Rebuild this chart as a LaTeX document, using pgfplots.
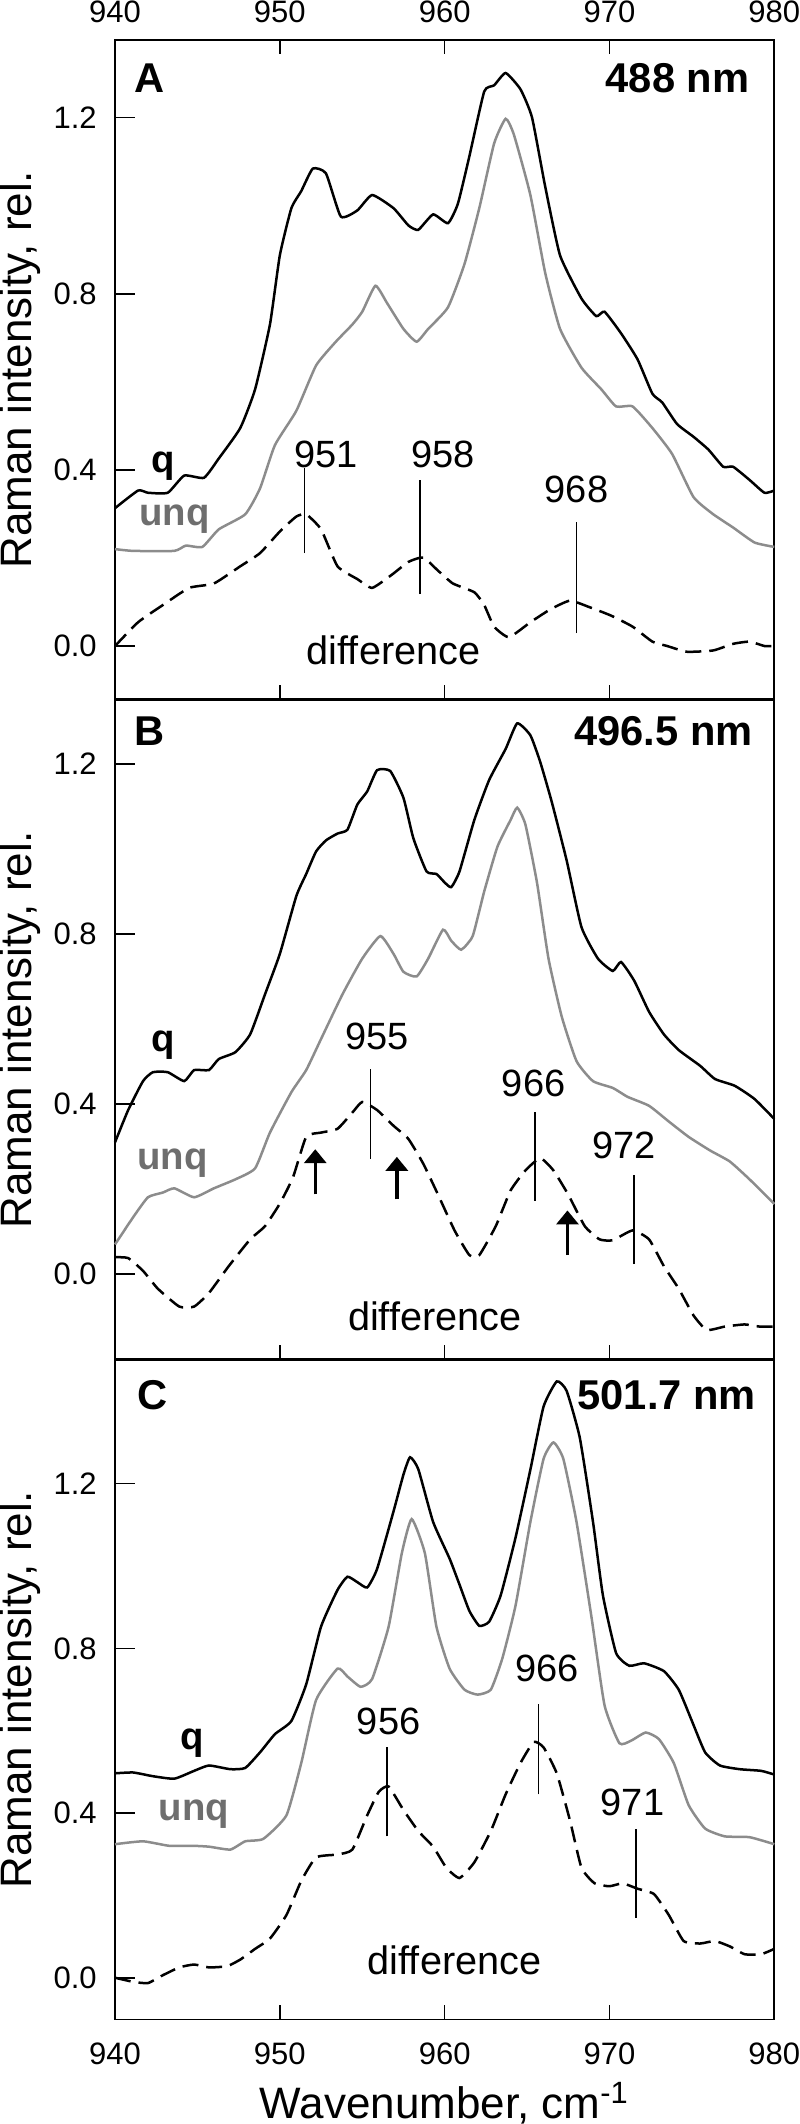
\documentclass[border=0pt]{standalone}
\usepackage{pgfplots}
\pgfplotsset{compat=1.18}
\usepackage{fontspec}
\setmainfont{Liberation Sans}
\usetikzlibrary{arrows.meta}

\definecolor{unqline}{RGB}{140,140,140}
\definecolor{unqtext}{RGB}{110,110,110}
\newcommand{\lab}{\fontsize{11.4}{12}\selectfont}
\newcommand{\dlab}{\fontsize{11.9}{12}\selectfont}
\newcommand{\qlab}{\fontsize{11.5}{12}\selectfont\bfseries}
\newcommand{\pan}{\fontsize{12.5}{14}\selectfont\bfseries}

\pgfplotsset{
  panel/.style={
    scale only axis, width=197.8pt, height=197.8pt,
    anchor=south west, clip=false,
    xmin=940, xmax=980, xtick={940,950,...,980},
    ytick={0,0.4,0.8,1.2},
    tick align=inside, ytick pos=left,
    axis line style={line width=0.5pt},
    every tick/.style={black, line width=0.5pt},
    major tick length=6pt,
    xtick style={/pgfplots/major tick length=4.3pt},
    /pgf/number format/assume math mode=true,
    ticklabel style={font=\fontsize{9.3}{10}\selectfont},
    yticklabel style={anchor=east, inner sep=0pt, xshift=-5.3pt,
      /pgf/number format/.cd, fixed, fixed zerofill, precision=1},
    ylabel={Raman intensity, rel.},
    every axis y label/.style={at={(axis description cs:-0.1264,0.5)},
      rotate=90, anchor=base, font=\fontsize{13.2}{14}\selectfont},
  },
  q/.style={black, line width=0.75pt, smooth, tension=0.3},
  unq/.style={unqline, line width=0.75pt, smooth, tension=0.3},
  diff/.style={black, line width=0.75pt, smooth, tension=0.3, dash pattern=on 4.8pt off 2.4pt},
  mk/.style={black, line width=0.5pt},
  arr/.style={black, line width=1pt, -{Triangle[width=6.6pt,length=4.2pt]}},
}

\begin{document}
\begin{tikzpicture}
\path[use as bounding box] (0,0) rectangle (240pt,637.2pt);

% ---------------- A
\begin{axis}[panel, at={(34.5pt,427.4pt)},
  ymin=-0.121, ymax=1.376,
  xtick pos=both, xticklabel pos=top,
  xticklabel style={anchor=south, inner sep=0pt, yshift=5pt}]
\addplot[q] coordinates {
(940,0.313) (941.4,0.353) (942,0.348) (943.2,0.348) (944.2,0.387) (945.4,0.382)
(946.3,0.426) (947.6,0.495) (948.5,0.583) (949.4,0.730) (950.0,0.887) (950.7,0.994)
(951.3,1.033) (952.0,1.084) (952.8,1.073) (953.7,0.975) (954.7,0.989) (955.6,1.024)
(956.9,0.994) (957.8,0.955) (958.4,0.945) (959.3,0.980) (960.2,0.960) (960.8,1.004)
(961.5,1.112) (962.4,1.259) (963.0,1.273) (963.7,1.301) (964.6,1.264) (965.3,1.200)
(966.1,1.043) (967.0,0.887) (968.3,0.789) (969.2,0.749) (969.7,0.759) (970.7,0.710)
(971.7,0.651) (972.6,0.573) (973.2,0.553) (974.1,0.504) (975.1,0.475) (976.0,0.446)
(976.9,0.407) (977.5,0.407) (978.5,0.377) (979.4,0.348) (980,0.353)};
\addplot[unq] coordinates {
(940,0.220) (941.1,0.216) (943.6,0.216) (944.3,0.228) (945.3,0.225) (946.3,0.265)
(947.9,0.299) (948.8,0.358) (949.7,0.456) (951.0,0.534) (952.2,0.637) (953.4,0.691)
(954.4,0.730) (955.0,0.759) (955.8,0.818) (956.5,0.779) (957.5,0.720) (958.3,0.691)
(959.0,0.720) (960.2,0.769) (961.2,0.867) (962.1,0.994) (963.0,1.141) (963.7,1.197)
(964.2,1.161) (965.2,1.024) (966.1,0.847) (967.0,0.720) (968.3,0.632) (969.5,0.583)
(970.4,0.544) (971.4,0.544) (972.6,0.495) (973.8,0.436) (975.1,0.338) (976.3,0.299)
(977.5,0.269) (978.8,0.235) (980,0.225)};
\addplot[diff] coordinates {
(940,0.000) (941.4,0.054) (942.9,0.093) (944.5,0.132) (946.0,0.142) (947.6,0.181)
(948.8,0.211) (950.0,0.260) (951.0,0.294) (951.6,0.299) (952.5,0.265) (953.5,0.181)
(954.7,0.152) (955.6,0.132) (956.8,0.162) (957.8,0.191) (958.7,0.201) (959.6,0.171)
(960.5,0.142) (961.8,0.122) (962.4,0.093) (963.0,0.044) (963.9,0.020) (965.2,0.054)
(966.4,0.083) (967.6,0.103) (968.8,0.088) (970.1,0.069) (971.4,0.044) (972.6,0.010)
(973.5,0.000) (974.7,-0.013) (976.3,-0.010) (977.5,0.005) (978.5,0.010) (979.4,0.000)
(980,0.000)};
\addplot[mk] coordinates {(951.5,0.211) (951.5,0.404)};
\addplot[mk] coordinates {(958.5,0.118) (958.5,0.377)};
\addplot[mk] coordinates {(968.0,0.029) (968.0,0.282)};
\node[font=\lab] at (axis cs:952.8,0.434) {951};
\node[font=\lab] at (axis cs:959.9,0.434) {958};
\node[font=\lab] at (axis cs:968.0,0.355) {968};
\node[font=\qlab] at (axis cs:942.9,0.409) {q};
\node[font=\qlab, text=unqtext] at (axis cs:943.6,0.287) {unq};
\node[font=\dlab] at (axis cs:956.9,-0.01) {difference};
\node[font=\pan] at (axis cs:942.1,1.290) {A};
\node[font=\pan, anchor=east] at (axis cs:979.2,1.290) {488 nm};
\end{axis}

% ---------------- B
\begin{axis}[panel, at={(34.5pt,229.4pt)},
  ymin=-0.2, ymax=1.350,
  xtick pos=bottom, xticklabels={}]
\addplot[q] coordinates {
(940,0.310) (940.8,0.386) (941.7,0.454) (942.3,0.475) (943.2,0.475) (944.2,0.454)
(944.8,0.480) (945.7,0.480) (946.3,0.506) (947.3,0.522) (948.2,0.564) (949.1,0.658)
(950.0,0.753) (951.0,0.889) (951.6,0.941) (952.2,0.994) (952.8,1.020) (953.5,1.036)
(954.1,1.045) (954.7,1.104) (955.3,1.135) (955.9,1.185) (956.7,1.183) (957.5,1.120)
(958.1,1.025) (958.9,0.947) (959.5,0.941) (960.0,0.921) (960.4,0.910) (960.9,0.947)
(961.8,1.068) (962.7,1.162) (963.7,1.235) (964.4,1.295) (965.2,1.267) (965.8,1.204)
(966.5,1.110) (967.4,0.973) (968.3,0.816) (969.3,0.742) (970.2,0.713) (970.7,0.734)
(971.5,0.690) (972.4,0.617) (973.3,0.564) (974.2,0.527) (975.5,0.490) (976.4,0.459)
(977.6,0.443) (978.8,0.412) (980,0.365)};
\addplot[unq] coordinates {
(940,0.070) (941.1,0.134) (942.0,0.181) (942.9,0.192) (943.6,0.202) (944.8,0.181)
(946.0,0.202) (947.3,0.223) (948.5,0.249) (949.4,0.333) (950.7,0.428) (951.6,0.480)
(952.5,0.553) (953.8,0.658) (955.0,0.742) (956.1,0.795) (956.9,0.753) (957.5,0.711)
(958.3,0.700) (959.0,0.742) (959.9,0.810) (960.4,0.784) (961.0,0.763) (961.7,0.795)
(962.4,0.900) (963.2,1.005) (964.0,1.068) (964.4,1.097) (964.9,1.057) (965.6,0.921)
(966.3,0.742) (967.1,0.606) (968.0,0.501) (969.0,0.454) (970.2,0.438) (971.1,0.417)
(972.4,0.396) (973.6,0.359) (974.8,0.323) (976.1,0.291) (977.3,0.265) (978.5,0.223)
(980,0.165)};
\addplot[diff] coordinates {
(940,0.040) (940.8,0.038) (941.7,0.008) (942.6,-0.034) (943.9,-0.076) (944.8,-0.076)
(945.7,-0.044) (946.9,0.019) (948.2,0.082) (949.1,0.113) (950.0,0.166) (950.8,0.228)
(951.6,0.323) (952.5,0.333) (953.5,0.342) (954.4,0.380) (955.0,0.405) (955.9,0.386)
(956.9,0.349) (957.8,0.318) (958.7,0.260) (959.6,0.187) (960.6,0.103) (961.5,0.045)
(962.1,0.045) (963.1,0.113) (964.0,0.197) (964.9,0.244) (965.8,0.273) (966.6,0.244)
(967.5,0.187) (968.5,0.113) (969.4,0.082) (970.2,0.080) (971.4,0.103) (972.4,0.082)
(973.3,0.019) (974.2,-0.034) (975.1,-0.097) (975.9,-0.131) (977.0,-0.123) (978.2,-0.118)
(979.1,-0.123) (980,-0.123)};
\addplot[mk] coordinates {(955.5,0.272) (955.5,0.483)};
\addplot[mk] coordinates {(965.5,0.173) (965.5,0.381)};
\addplot[mk] coordinates {(971.5,0.024) (971.5,0.234)};
\addplot[arr] coordinates {(952.15,0.188) (952.15,0.294)};
\addplot[arr] coordinates {(957.1,0.176) (957.1,0.276)};
\addplot[arr] coordinates {(967.45,0.045) (967.45,0.150)};
\node[font=\lab] at (axis cs:955.9,0.559) {955};
\node[font=\lab] at (axis cs:965.4,0.449) {966};
\node[font=\lab] at (axis cs:970.9,0.302) {972};
\node[font=\qlab] at (axis cs:942.9,0.538) {q};
\node[font=\qlab, text=unqtext] at (axis cs:943.5,0.260) {unq};
\node[font=\dlab] at (axis cs:959.4,-0.099) {difference};
\node[font=\pan] at (axis cs:942.1,1.276) {B};
\node[font=\pan, anchor=east] at (axis cs:979.4,1.276) {496.5 nm};
\end{axis}

% ---------------- C
\begin{axis}[panel, at={(34.5pt,31.4pt)},
  ymin=-0.1, ymax=1.5,
  xtick pos=bottom,
  xticklabel style={anchor=north, inner sep=0pt, yshift=-7pt},
  xlabel={Wavenumber, cm\textsuperscript{-1}},
  every axis x label/.style={at={(axis description cs:0.5,0)},
    anchor=base, yshift=-29.6pt, font=\fontsize{13.2}{14}\selectfont}]
\addplot[q] coordinates {
(940,0.497) (941.1,0.499) (942.3,0.490) (943.6,0.484) (944.8,0.503) (945.7,0.516)
(947.0,0.507) (947.9,0.510) (948.8,0.548) (949.7,0.592) (950.7,0.624) (951.6,0.713)
(952.5,0.853) (953.5,0.942) (954.1,0.974) (954.7,0.961) (955.3,0.948) (955.9,0.993)
(956.9,1.133) (957.5,1.222) (957.9,1.264) (958.4,1.235) (959.3,1.107) (960.3,1.018)
(960.9,0.955) (961.5,0.891) (962.1,0.855) (962.7,0.865) (963.4,0.929) (964.3,1.069)
(965.2,1.234) (966.0,1.387) (966.8,1.448) (967.4,1.425) (968.2,1.311) (969.0,1.107)
(969.6,0.929) (970.4,0.789) (971.2,0.758) (972.1,0.764) (973.3,0.745) (974.2,0.700)
(975.0,0.624) (975.8,0.548) (976.7,0.516) (977.9,0.507) (979.2,0.503) (980,0.494)};
\addplot[unq] coordinates {
(940,0.325) (941.7,0.332) (943.3,0.321) (944.8,0.321) (945.7,0.319) (947.0,0.312)
(947.9,0.332) (949.0,0.338) (950.4,0.395) (951.3,0.522) (952.2,0.675) (953.5,0.751)
(954.1,0.732) (954.9,0.707) (955.6,0.726) (956.6,0.853) (957.4,1.031) (958.0,1.114)
(958.8,1.031) (959.5,0.853) (960.3,0.751) (961.2,0.700) (962.0,0.688) (962.8,0.700)
(963.5,0.776) (964.3,0.904) (965.2,1.107) (966.0,1.260) (966.6,1.300) (967.2,1.260)
(968.0,1.107) (968.9,0.878) (969.7,0.662) (970.6,0.570) (971.3,0.576) (972.2,0.596)
(973.0,0.580) (973.9,0.522) (974.8,0.420) (975.8,0.363) (977.0,0.344) (978.5,0.342)
(980,0.325)};
\addplot[diff] coordinates {
(940,0.001) (941.1,-0.009) (942.0,-0.012) (942.9,0.007) (943.9,0.026) (944.8,0.033)
(945.7,0.026) (946.8,0.029) (947.6,0.045) (948.5,0.071) (949.4,0.096) (950.4,0.153)
(951.3,0.236) (952.2,0.293) (953.5,0.300) (954.4,0.312) (955.3,0.395) (956.0,0.452)
(956.6,0.465) (957.5,0.408) (958.4,0.357) (959.3,0.319) (960.1,0.268) (960.9,0.243)
(961.8,0.281) (962.8,0.357) (963.7,0.446) (964.6,0.522) (965.4,0.573) (966.0,0.560)
(966.8,0.497) (967.6,0.383) (968.3,0.268) (969.1,0.230) (970.0,0.223) (970.8,0.230)
(971.7,0.217) (972.7,0.204) (973.6,0.153) (974.5,0.090) (975.5,0.084) (976.4,0.090)
(977.3,0.077) (978.2,0.058) (979.2,0.058) (980,0.071)};
\addplot[mk] coordinates {(956.5,0.344) (956.5,0.560)};
\addplot[mk] coordinates {(965.7,0.446) (965.7,0.665)};
\addplot[mk] coordinates {(971.6,0.147) (971.6,0.363)};
\node[font=\lab] at (axis cs:956.6,0.624) {956};
\node[font=\lab] at (axis cs:966.2,0.751) {966};
\node[font=\lab] at (axis cs:971.4,0.427) {971};
\node[font=\qlab] at (axis cs:944.7,0.571) {q};
\node[font=\qlab, text=unqtext] at (axis cs:944.8,0.399) {unq};
\node[font=\dlab] at (axis cs:960.6,0.043) {difference};
\node[font=\pan] at (axis cs:942.3,1.415) {C};
\node[font=\pan, anchor=east] at (axis cs:979.6,1.415) {501.7 nm};
\end{axis}
\end{tikzpicture}
\end{document}
